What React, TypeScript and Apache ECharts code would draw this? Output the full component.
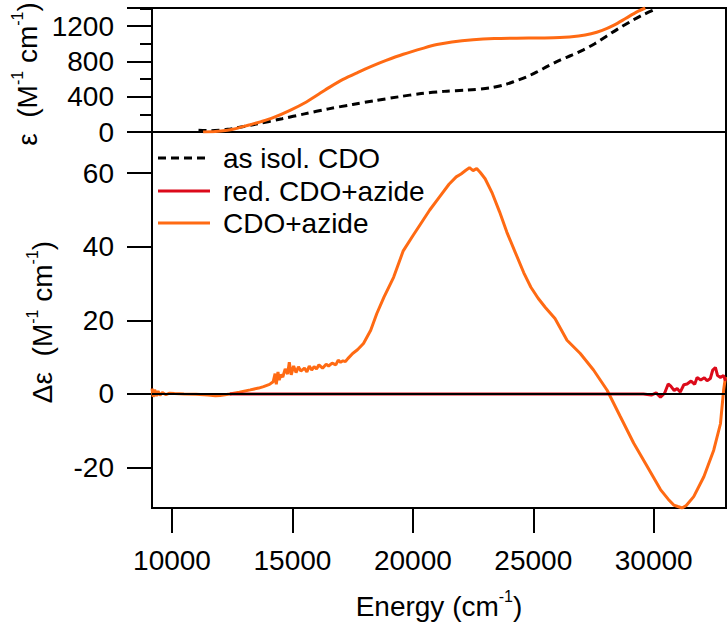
import React, { useEffect, useRef } from "react";
import * as echarts from "echarts";

// ---- absorption (top panel), energy in cm^-1, epsilon in M^-1 cm^-1
const absIsolEnergy = [11100, 11600, 12300, 12650, 13500, 14570, 15500, 16500, 17500, 18420, 19400, 20340, 21300, 22270, 23230, 23800, 24190, 24700, 25150, 25600, 26110, 26600, 27080, 27550, 28040, 28500, 29000, 29500, 30100];
const absIsolValue = [20, 15, 30, 45, 90, 150, 205, 262, 312, 355, 398, 435, 460, 475, 500, 535, 570, 622, 680, 745, 815, 870, 930, 1000, 1085, 1165, 1245, 1320, 1395];

const absAzideEnergy = [11290, 11800, 12300, 12650, 13200, 13700, 14200, 14900, 15580, 16100, 16550, 17100, 17720, 18300, 18890, 19600, 20450, 21000, 21620, 22500, 23380, 24300, 25320, 26100, 26880, 27400, 27860, 28350, 28830, 29300, 29650];
const absAzideValue = [0, 5, 20, 38, 80, 118, 162, 245, 340, 430, 508, 595, 675, 745, 810, 880, 950, 990, 1020, 1045, 1058, 1062, 1065, 1070, 1088, 1112, 1150, 1210, 1285, 1360, 1404];

// ---- CD (bottom panel), delta epsilon in M^-1 cm^-1
const cdAzideEnergy = [9170, 9220, 9280, 9350, 9420, 9500, 9600, 9750, 9900, 10100, 10500, 11000, 11500, 11800, 12000, 12400, 12800, 13250, 13600, 13800, 14050, 14200, 14280, 14330, 14400, 14450, 14520, 14600, 14700, 14800, 14870, 14950, 15050, 15150, 15250, 15350, 15500, 15600, 15700, 15800, 15900, 16000, 16100, 16250, 16400, 16500, 16650, 16800, 16900, 17000, 17100, 17200, 17300, 17500, 17700, 17950, 18250, 18500, 18800, 19200, 19600, 20000, 20300, 20700, 21100, 21500, 21800, 22000, 22200, 22350, 22500, 22650, 22800, 23000, 23300, 23600, 23900, 24250, 24600, 24900, 25200, 25500, 25900, 26400, 26950, 27500, 28065, 28600, 29170, 29730, 30280, 30600, 30830, 31000, 31180, 31350, 31660, 32080, 32490, 32770, 32900, 32980];
const cdAzideValue = [1.5, -0.8, 1.2, -0.6, 0.8, -0.4, 0.4, -0.2, 0.2, 0.1, 0.0, -0.1, -0.3, -0.5, -0.4, 0.0, 0.5, 1.1, 1.6, 2.0, 2.6, 3.3, 5.5, 2.6, 6.0, 3.8, 5.2, 4.6, 6.8, 5.4, 8.6, 5.2, 7.6, 5.8, 7.4, 6.2, 7.0, 6.0, 7.6, 6.5, 7.4, 6.8, 7.9, 7.0, 8.1, 7.6, 8.4, 7.9, 9.2, 8.6, 9.0, 8.8, 9.6, 11.0, 12.0, 13.7, 17.3, 21.8, 26.3, 31.7, 38.9, 43, 46, 50, 53.5, 57, 59, 59.8, 60.8, 61.5, 60.7, 61.3, 60.2, 58.5, 54.5, 49.5, 44, 38.5, 33, 29, 26, 23.5, 20.5, 14.6, 11, 6.5, 1, -6, -13.4, -19.7, -26, -28.6, -30.2, -30.6, -31, -30.3, -27.9, -22.5, -15.3, -8.1, 1, 4.6];

const cdRedEnergy = [12400, 29570, 29900, 30100, 30280, 30450, 30600, 30700, 30850, 30970, 31100, 31250, 31385, 31550, 31700, 31800, 31950, 32100, 32215, 32350, 32450, 32560, 32650, 32770, 32900, 32980];
const cdRedValue = [0, 0, -0.3, 0.3, -0.9, 0.2, 2.7, 2.2, 0.9, 1.5, 0.5, 2.5, 2.7, 3.5, 2.6, 4.5, 3.8, 4.4, 3.6, 4.2, 6.5, 7.2, 5.0, 4.5, 5.0, 3.6];

const seriesNames = ["as isol. CDO", "red. CDO+azide", "CDO+azide"];
const energyTicks = [10000, 15000, 20000, 25000, 30000];
const cdTicks = [-20, 0, 20, 40, 60];

const FONT = "'Liberation Sans', Arial, Helvetica, sans-serif";
const ORANGE = "#ff6a13";
const RED = "#dc0a1a";
const FS = 28;

const zip = (xs: number[], ys: number[]) => xs.map((x, i) => [x, ys[i]]);

const rich = {
  a: { fontSize: FS, fontFamily: FONT, color: "#000", lineHeight: 32, verticalAlign: "bottom" },
  s: { fontSize: 16, fontFamily: FONT, color: "#000", lineHeight: 16, verticalAlign: "top" },
};

export default function App() {
  const ref = useRef<HTMLDivElement>(null);
  useEffect(() => {
    if (!ref.current) return;
    const chart = echarts.init(ref.current, null, { renderer: "svg" });
    const axisLineStyle = { color: "#000", width: 2 };
    const xMin = 9170;
    const xMax = 33000;
    const plain = (v: number) => String(v);
    const legendColors = ["#000", RED, ORANGE];
    const legendY = [158, 191, 223];
    const legendGraphics: any[] = [];
    seriesNames.forEach((name, i) => {
      legendGraphics.push({
        type: "line",
        shape: { x1: 158, y1: legendY[i], x2: 210, y2: legendY[i] },
        style: { stroke: legendColors[i], lineWidth: 3, lineDash: i === 0 ? [8, 5] : null },
        z: 10,
      });
      legendGraphics.push({
        type: "text", x: 223, y: legendY[i], z: 10,
        style: { text: name, fontSize: FS, fontFamily: FONT, fill: "#000", verticalAlign: "middle", align: "left" },
      });
    });
    chart.setOption({
      animation: false,
      backgroundColor: "#fff",
      textStyle: { fontFamily: FONT, color: "#000" },
      grid: [
        { left: 152, right: 2, top: 8, height: 124, show: true, borderColor: "#000", borderWidth: 2, backgroundColor: "transparent" },
        { left: 152, right: 2, top: 132, height: 376, show: true, borderColor: "#000", borderWidth: 2, backgroundColor: "transparent" },
      ],
      xAxis: [
        {
          type: "value", gridIndex: 0, min: xMin, max: xMax,
          axisLine: { show: true, onZero: false, lineStyle: axisLineStyle },
          axisTick: { show: false }, axisLabel: { show: false }, splitLine: { show: false },
        },
        {
          type: "value", gridIndex: 1, min: xMin, max: xMax, position: "bottom",
          axisLine: { show: true, onZero: false, lineStyle: axisLineStyle },
          axisTick: { show: true, length: 25, inside: false, customValues: energyTicks, lineStyle: axisLineStyle },
          axisLabel: { customValues: energyTicks, fontSize: FS, margin: 38, color: "#000", fontFamily: FONT, formatter: plain },
          splitLine: { show: false },
          name: "{a|Energy (cm}{s|-1}{a|)}",
          nameLocation: "middle",
          nameGap: 80,
          nameTextStyle: { rich },
        },
      ],
      yAxis: [
        {
          type: "value", gridIndex: 0, min: 0, max: 1404, interval: 400,
          axisLine: { show: true, onZero: false, lineStyle: axisLineStyle },
          axisTick: { show: true, length: 25, inside: false, lineStyle: axisLineStyle },
          minorTick: { show: true, splitNumber: 2, length: 12, lineStyle: axisLineStyle },
          axisLabel: { fontSize: FS, margin: 38, color: "#000", fontFamily: FONT, showMaxLabel: false, formatter: plain },
          splitLine: { show: false },
        },
        {
          type: "value", gridIndex: 1, min: -31, max: 71.2,
          axisLine: { show: true, onZero: false, lineStyle: axisLineStyle },
          axisTick: { show: true, length: 25, inside: false, customValues: cdTicks, lineStyle: axisLineStyle },
          axisLabel: { customValues: cdTicks, fontSize: FS, margin: 38, color: "#000", fontFamily: FONT, formatter: plain },
          splitLine: { show: false },
        },
      ],
      graphic: [
        {
          type: "text", x: 25, y: 74, rotation: Math.PI / 2,
          style: { text: "{a|ε  (M}{s|-1}{a| cm}{s|-1}{a|)}", rich, align: "center", verticalAlign: "middle" },
        },
        {
          type: "text", x: 40, y: 322, rotation: Math.PI / 2,
          style: { text: "{a|Δε  (M}{s|-1}{a| cm}{s|-1}{a|)}", rich, align: "center", verticalAlign: "middle" },
        },
        ...legendGraphics,
      ],
      series: [
        {
          name: "zero", type: "line", xAxisIndex: 1, yAxisIndex: 1, data: [], z: 1, silent: true,
          markLine: {
            silent: true, symbol: "none", label: { show: false },
            lineStyle: { color: "#000", width: 2, type: "solid" },
            data: [{ yAxis: 0 }],
          },
        },
        {
          name: seriesNames[0], type: "line", xAxisIndex: 0, yAxisIndex: 0, showSymbol: false, symbol: "none",
          data: zip(absIsolEnergy, absIsolValue), smooth: 0.3, z: 3,
          lineStyle: { color: "#000", width: 3, type: [8, 5] },
        },
        {
          name: seriesNames[2], type: "line", xAxisIndex: 0, yAxisIndex: 0, showSymbol: false, symbol: "none",
          data: zip(absAzideEnergy, absAzideValue), smooth: 0.3, z: 4,
          lineStyle: { color: ORANGE, width: 3 },
        },
        {
          name: seriesNames[1], type: "line", xAxisIndex: 1, yAxisIndex: 1, showSymbol: false, symbol: "none",
          data: zip(cdRedEnergy, cdRedValue), z: 4,
          lineStyle: { color: RED, width: 3 },
        },
        {
          name: seriesNames[2], type: "line", xAxisIndex: 1, yAxisIndex: 1, showSymbol: false, symbol: "none",
          data: zip(cdAzideEnergy, cdAzideValue), z: 3,
          lineStyle: { color: ORANGE, width: 3 },
        },
      ],
    });
    return () => chart.dispose();
  }, []);
  return <div ref={ref} style={{ width: 728, height: 632, position: "absolute", left: 0, top: 0 }} />;
}
